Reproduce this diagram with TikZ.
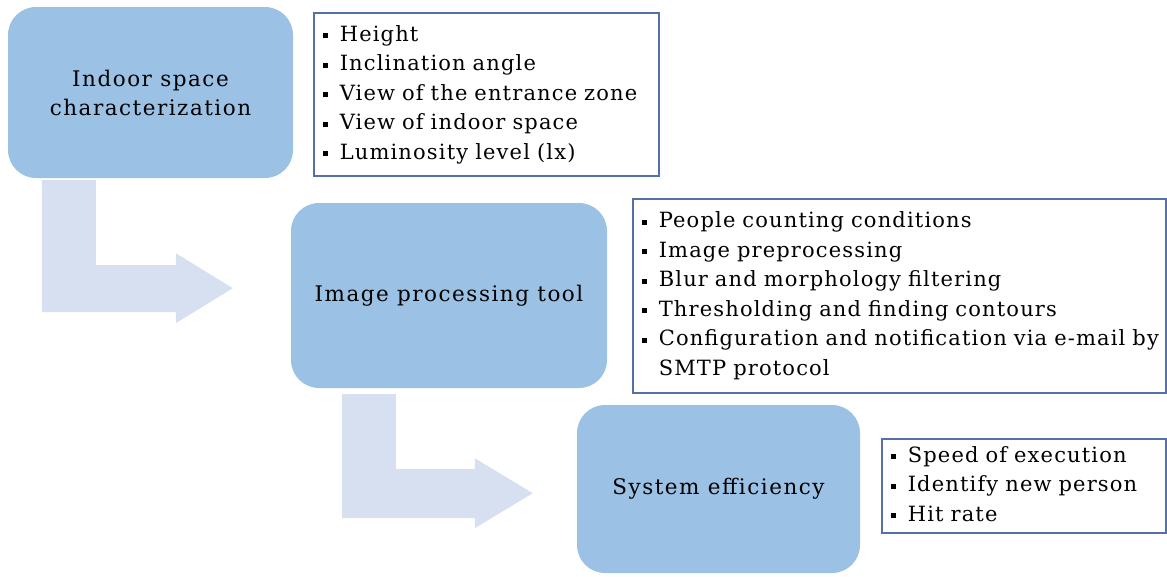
\documentclass[tikz,border=0pt]{standalone}
\usepackage{fontspec}
\setmainfont{DejaVu Serif}
\usepackage{tikz}
\usetikzlibrary{calc}

\definecolor{boxblue}{RGB}{155,193,229}
\definecolor{arrowfill}{RGB}{214,224,241}
\definecolor{listblue}{RGB}{84,112,168}

\newcommand{\sqbul}{\rule[0.28ex]{5pt}{5pt}}

\begin{document}
\begin{tikzpicture}[x=1pt,y=-1pt,
    stepbox/.style={rounded corners=28pt, fill=boxblue, align=center,
        inner sep=0pt, font=\fontsize{21.5}{29}\selectfont\addfontfeatures{LetterSpace=7}},
    listbox/.style={draw=listblue, line width=1.6pt, fill=white,
        anchor=north west, inner xsep=8pt, inner ysep=0pt, align=left,
        font=\fontsize{21}{29.5}\selectfont\addfontfeatures{LetterSpace=5.5}}]

\useasboundingbox (0,0) rectangle (1167,576);

% Main steps
\node[stepbox, minimum width=285, minimum height=171] (charbox) at (150.5,92.5)
    {Indoor space\\characterization};
\node[stepbox, minimum width=316, minimum height=185] (procbox) at (449,295.5)
    {Image processing tool};
\node[stepbox, minimum width=283, minimum height=168] (effbox) at (718.5,489)
    {System efficiency};

% Lists
\node[listbox, minimum width=345, minimum height=163, text width=327] (charlist) at (313,12)
    {\begin{tabular}{@{}l@{\hspace{12pt}}l@{}}
     \sqbul & Height\\
     \sqbul & Inclination angle\\
     \sqbul & View of the entrance zone\\
     \sqbul & View of indoor space\\
     \sqbul & Luminosity level (lx)
     \end{tabular}};
\node[listbox, minimum width=533, minimum height=194, text width=515] (proclist) at (632,198)
    {\begin{tabular}{@{}l@{\hspace{12pt}}l@{}}
     \sqbul & People counting conditions\\
     \sqbul & Image preprocessing\\
     \sqbul & Blur and morphology filtering\\
     \sqbul & Thresholding and finding contours\\
     \sqbul & Configuration and notification via e-mail by\\
            & SMTP protocol
     \end{tabular}};
\node[listbox, minimum width=284, minimum height=94, text width=266] (efflist) at (881,438)
    {\begin{tabular}{@{}l@{\hspace{12pt}}l@{}}
     \sqbul & Speed of execution\\
     \sqbul & Identify new person\\
     \sqbul & Hit rate
     \end{tabular}};

% Bent arrows
\coordinate (bendA) at ($(charbox.south west)+(34,2)$);
\coordinate (bendB) at ($(procbox.south west)+(51,6)$);

\fill[arrowfill] (bendA) -- ++(54,0) -- ++(0,85) -- ++(80,0) -- ++(0,-12)
    -- ++(57,35) -- ++(-57,35) -- ++(0,-11) -- ++(-134,0) -- cycle;
\fill[arrowfill] (bendB) -- ++(54,0) -- ++(0,75) -- ++(79,0) -- ++(0,-11)
    -- ++(58,35) -- ++(-58,35) -- ++(0,-10) -- ++(-133,0) -- cycle;

\end{tikzpicture}
\end{document}
